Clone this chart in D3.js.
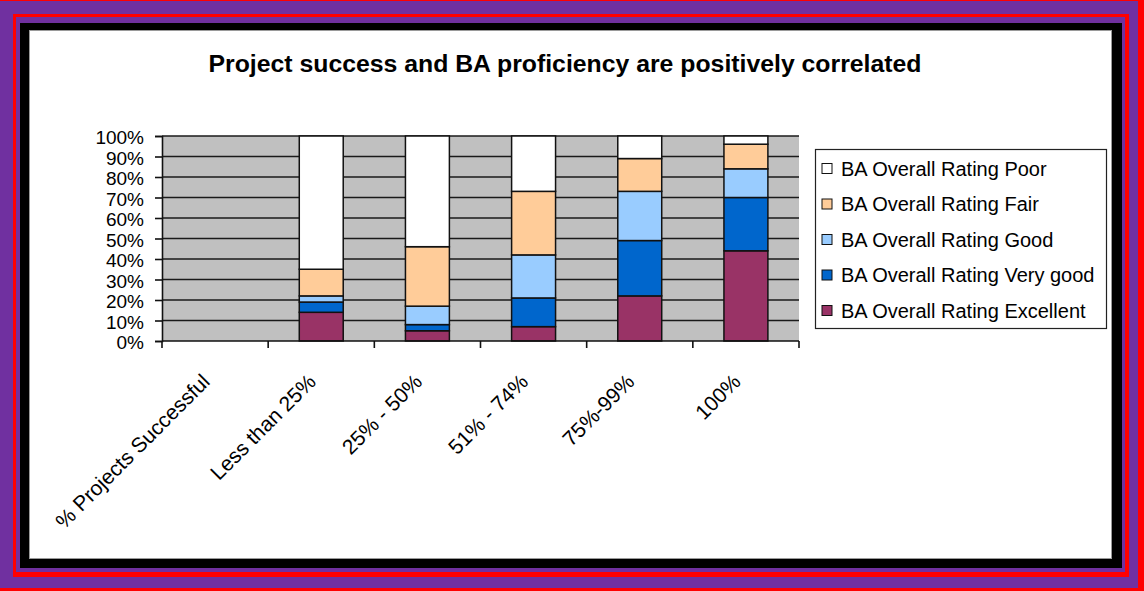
<!DOCTYPE html>
<html>
<head>
<meta charset="utf-8">
<script src="https://cdn.jsdelivr.net/npm/d3@7/dist/d3.min.js"></script>
<style>
  html, body { margin: 0; padding: 0; background: #ffffff; }
  svg { display: block; }
  text { font-family: "Liberation Sans", Arial, sans-serif; fill: #000; }
</style>
</head>
<body>
<svg id="chart" width="1144" height="591"></svg>
<script>
// Categories along the x axis
const categories = ["% Projects Successful", "Less than 25%", "25% - 50%", "51% - 74%", "75%-99%", "100%"];

// Share of respondents (%) per BA rating, one value per category
const excellent = [0, 14, 5, 7, 22, 44];
const veryGood  = [0, 5, 3, 14, 27, 26];
const good      = [0, 3, 9, 21, 24, 14];
const fair      = [0, 13, 29, 31, 16, 12];
const poor      = [0, 65, 54, 27, 11, 4];

const seriesNames  = ["BA Overall Rating Excellent", "BA Overall Rating Very good", "BA Overall Rating Good", "BA Overall Rating Fair", "BA Overall Rating Poor"];
const seriesColors = ["#993366", "#0066CC", "#99CCFF", "#FFCC99", "#FFFFFF"];
const yTicks = [0, 10, 20, 30, 40, 50, 60, 70, 80, 90, 100];

const title = "Project success and BA proficiency are positively correlated";

const svg = d3.select("#chart");

// Decorative frame: nested coloured borders
const frame = [
  { x: 0,  y: 0,  x2: 1144, y2: 591, c: "#ff0000" },
  { x: 0,  y: 1,  x2: 1138, y2: 588, c: "#7030a0" },
  { x: 13, y: 14, x2: 1129, y2: 577, c: "#ff0000" },
  { x: 16, y: 17, x2: 1125, y2: 572, c: "#7030a0" },
  { x: 20, y: 23, x2: 1122, y2: 568, c: "#000000" },
  { x: 30, y: 31, x2: 1111, y2: 558, c: "#ffffff" }
];
svg.selectAll("rect.frame").data(frame).join("rect")
  .attr("class", "frame")
  .attr("x", d => d.x).attr("y", d => d.y)
  .attr("width", d => d.x2 - d.x).attr("height", d => d.y2 - d.y)
  .attr("fill", d => d.c);
svg.append("rect").attr("x", 29.5).attr("y", 30.5).attr("width", 1082).attr("height", 528)
  .attr("fill", "none").attr("stroke", "#9a9a9a").attr("stroke-width", 1);

// Title
svg.append("text")
  .attr("x", 565).attr("y", 72)
  .attr("text-anchor", "middle")
  .style("font-size", "24.8px").style("font-weight", "bold")
  .text(title);

// Plot area
const plot = { left: 162, right: 799, top: 136, bottom: 341 };

const x = d3.scaleBand().domain(categories).range([plot.left, plot.right]).padding(0);
const y = d3.scaleLinear().domain([0, 100]).range([plot.bottom, plot.top]);

svg.append("rect")
  .attr("x", plot.left).attr("y", plot.top)
  .attr("width", plot.right - plot.left).attr("height", plot.bottom - plot.top)
  .attr("fill", "#C0C0C0");

// Horizontal gridlines
svg.append("g").selectAll("line").data(yTicks.filter(t => t > 0)).join("line")
  .attr("x1", plot.left).attr("x2", plot.right)
  .attr("y1", d => y(d)).attr("y2", d => y(d))
  .attr("stroke", "#1a1a1a").attr("stroke-width", 1.6);

// Stacked bars
const rows = categories.map((c, i) => ({
  category: c,
  [seriesNames[0]]: excellent[i],
  [seriesNames[1]]: veryGood[i],
  [seriesNames[2]]: good[i],
  [seriesNames[3]]: fair[i],
  [seriesNames[4]]: poor[i]
}));
const stacked = d3.stack().keys(seriesNames)(rows);
const barW = x.bandwidth() * 0.414;

svg.append("g").selectAll("g").data(stacked).join("g")
  .attr("fill", (d, i) => seriesColors[i])
  .selectAll("rect").data(d => d.filter(p => p[1] - p[0] > 0)).join("rect")
  .attr("x", d => x(d.data.category) + (x.bandwidth() - barW) / 2)
  .attr("width", barW)
  .attr("y", d => y(d[1]))
  .attr("height", d => y(d[0]) - y(d[1]))
  .attr("stroke", "#111").attr("stroke-width", 1.5);

// Y axis
const yAxis = svg.append("g")
  .attr("transform", `translate(${plot.left},0)`)
  .call(d3.axisLeft(y).tickValues(yTicks).tickFormat(d => d + "%").tickSize(7).tickPadding(11));
yAxis.select(".domain").attr("stroke", "#111").attr("stroke-width", 1.6);
yAxis.selectAll(".tick line").attr("stroke", "#111").attr("stroke-width", 1.6);
yAxis.selectAll(".tick text")
  .style("font-size", "19px").style("font-family", "'Liberation Sans', Arial, sans-serif")
  .attr("fill", "#000").attr("dy", "0.42em");

// X axis: baseline with ticks at category boundaries
const xg = svg.append("g");
xg.append("line")
  .attr("x1", plot.left).attr("x2", plot.right)
  .attr("y1", plot.bottom).attr("y2", plot.bottom)
  .attr("stroke", "#111").attr("stroke-width", 1.6);
const boundaries = categories.map(c => x(c)).concat([x.range()[1]]);
xg.selectAll("line.tick").data(boundaries).join("line")
  .attr("class", "tick")
  .attr("x1", d => d).attr("x2", d => d)
  .attr("y1", plot.bottom).attr("y2", plot.bottom + 7)
  .attr("stroke", "#111").attr("stroke-width", 1.6);
xg.selectAll("text").data(categories).join("text")
  .attr("transform", d => `translate(${x(d) + x.bandwidth() / 2 - 4},383) rotate(-45)`)
  .attr("text-anchor", "end")
  .style("font-size", "21px")
  .text(d => d);

// Legend
const legend = { x: 815, y: 149, w: 291, h: 179 };
svg.append("rect")
  .attr("x", legend.x + 0.5).attr("y", legend.y + 0.5)
  .attr("width", legend.w).attr("height", legend.h)
  .attr("fill", "#ffffff").attr("stroke", "#222").attr("stroke-width", 1.2);

const legendOrder = seriesNames.map((n, i) => ({ name: n, color: seriesColors[i] })).reverse();
const li = svg.append("g").selectAll("g").data(legendOrder).join("g")
  .attr("transform", (d, i) => `translate(${legend.x + 7},${legend.y + 19.5 + i * 35.5})`);
li.append("rect")
  .attr("x", 0).attr("y", -5).attr("width", 10).attr("height", 10)
  .attr("fill", d => d.color).attr("stroke", "#111").attr("stroke-width", 1);
li.append("text")
  .attr("x", 19).attr("y", 7)
  .style("font-size", "20px")
  .text(d => d.name);
</script>
</body>
</html>
